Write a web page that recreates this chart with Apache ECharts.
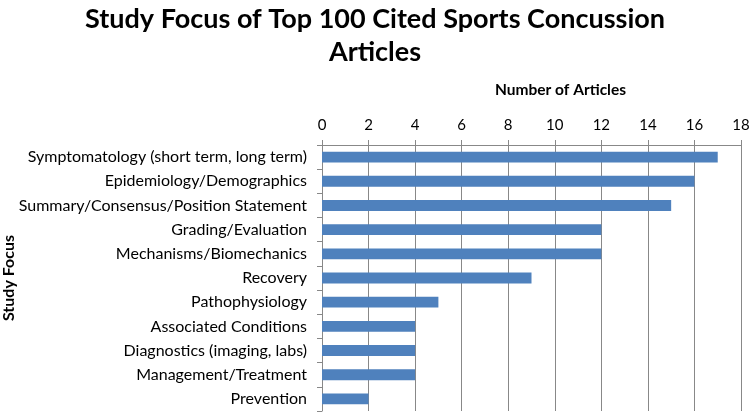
<!DOCTYPE html>
<html><head><meta charset="utf-8">
<script src="https://cdn.jsdelivr.net/npm/echarts@6/dist/echarts.min.js"></script>
<style>html,body{margin:0;padding:0;background:#fff}#c{width:750px;height:414px}</style>
</head><body><div id="c"></div>
<script>
const categories = ["Symptomatology (short term, long term)","Epidemiology/Demographics","Summary/Consensus/Position Statement","Grading/Evaluation","Mechanisms/Biomechanics","Recovery","Pathophysiology","Associated Conditions","Diagnostics (imaging, labs)","Management/Treatment","Prevention"];
const values = [17,16,15,12,12,9,5,4,4,4,2];
const xTicks = [0,2,4,6,8,10,12,14,16,18];
const FONT = "Lato, 'Open Sans', sans-serif";
const chart = echarts.init(document.getElementById('c'));
chart.setOption({
  animation:false,
  title:{text:"Study Focus of Top 100 Cited Sports Concussion\nArticles",left:'center',top:-2,
    textStyle:{fontFamily:FONT,fontWeight:'bold',fontSize:27,lineHeight:33,color:'#000'}},
  grid:{left:322,right:9,top:145,bottom:3,outerBoundsMode:'none',containLabel:false},
  xAxis:{type:'value',position:'top',min:xTicks[0],max:xTicks[xTicks.length-1],interval:2,
    name:'Number of Articles',nameLocation:'middle',nameGap:47,nameMoveOverlap:false,
    nameTextStyle:{fontFamily:FONT,fontWeight:'bold',fontSize:15.5,color:'#000',padding:[0,0,0,58]},
    axisLine:{show:true,lineStyle:{color:'#888'}},
    axisTick:{show:true,length:5,lineStyle:{color:'#888'}},
    axisLabel:{fontFamily:FONT,fontSize:15,color:'#000',margin:12},
    splitLine:{show:true,lineStyle:{color:'#888',width:1}}},
  yAxis:{type:'category',data:categories,inverse:true,
    name:'Study Focus',nameLocation:'middle',nameGap:305,nameRotate:90,nameMoveOverlap:false,
    nameTextStyle:{fontFamily:FONT,fontWeight:'bold',fontSize:16,color:'#000'},
    axisLine:{show:true,lineStyle:{color:'#888'}},
    axisTick:{show:true,length:5,lineStyle:{color:'#888'}},
    axisLabel:{fontFamily:FONT,fontSize:16,color:'#000',margin:15}},
  series:[{type:'bar',data:values,barWidth:'45%',itemStyle:{color:'#4f81bd'}}]
});
</script></body></html>
